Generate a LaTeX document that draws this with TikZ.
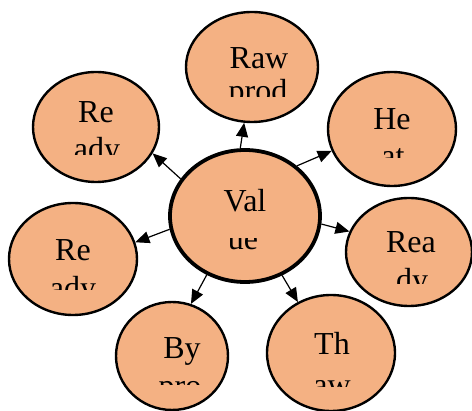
\documentclass[tikz,border=0pt]{standalone}
\usepackage{fontspec}
\setmainfont{Liberation Serif}
\usetikzlibrary{shapes.geometric,arrows.meta}
\definecolor{peach}{HTML}{F4B183}
\tikzset{
  bub/.style={ellipse, draw=black, line width=2.4pt, fill=peach, inner sep=0pt},
  bigbub/.style={bub, line width=3.8pt},
  lbl/.style={anchor=base, inner sep=0pt, font=\fontsize{32}{38}\selectfont},
  arr/.style={line width=1.2pt, -{Triangle[length=14pt,width=12pt]}}
}
\begin{document}
\begin{tikzpicture}[x=1pt,y=-1pt]
\useasboundingbox (0,0) rectangle (472,411);
% bubbles
\node[bub, minimum width=132pt, minimum height=110pt] (raw) at (252,67) {};
\node[bub, minimum width=126pt, minimum height=110pt] (ul) at (96,127) {};
\node[bub, minimum width=128pt, minimum height=114pt] (ur) at (392,129) {};
\node[bub, minimum width=128pt, minimum height=112pt] (lf) at (73,259) {};
\node[bub, minimum width=126pt, minimum height=108pt] (rt) at (409,252) {};
\node[bub, minimum width=112pt, minimum height=108pt] (bl) at (172,356) {};
\node[bub, minimum width=128pt, minimum height=116pt] (br) at (331,353) {};
\node[bigbub, minimum width=150pt, minimum height=132pt] (c) at (245,216) {};
% first lines
\node[lbl] (t1) at (259,69) {Raw};
\node[lbl] (t2) at (96,123) {Re};
\node[lbl] (t3) at (392,130) {He};
\node[lbl] (t4) at (73,261) {Re};
\node[lbl] (t5) at (411,253) {Rea};
\node[lbl] (t6) at (182,359) {By};
\node[lbl] (t7) at (332,355) {Th};
\node[lbl] (t8) at (245,212) {Val};
% clipped second lines
\begin{scope}\clip (0,0) rectangle (472,97);
\node[lbl] (s1) at (258,102) {prod};\end{scope}
\begin{scope}\clip (0,0) rectangle (472,155);
\node[lbl] (s2) at (97,160) {ady};\end{scope}
\begin{scope}\clip (0,0) rectangle (472,158);
\node[lbl] (s3) at (393,167) {at};\end{scope}
\begin{scope}\clip (0,0) rectangle (472,290);
\node[lbl] (s4) at (73,299) {ady};\end{scope}
\begin{scope}\clip (0,0) rectangle (472,284);
\node[lbl] (s5) at (412,291) {dy};\end{scope}
\begin{scope}\clip (0,0) rectangle (472,385);
\node[lbl] (s6) at (180,397) {pro};\end{scope}
\begin{scope}\clip (0,0) rectangle (472,387);
\node[lbl] (s7) at (332,396) {aw};\end{scope}
\begin{scope}\clip (0,239) rectangle (472,411);
\node[lbl] (s8) at (243,250) {ue};\end{scope}
% arrows
\draw[arr] (c.94) -- (raw.262);
\draw[arr] (c.150) -- (ul.-25);
\draw[arr] (c.44) -- (ur.200);
\draw[arr] (c.190) -- (lf.15);
\draw[arr] (c.-6) -- (rt.161);
\draw[arr] (c.237) -- (bl.70);
\draw[arr] (c.-58) -- (br.123);
\end{tikzpicture}
\end{document}
